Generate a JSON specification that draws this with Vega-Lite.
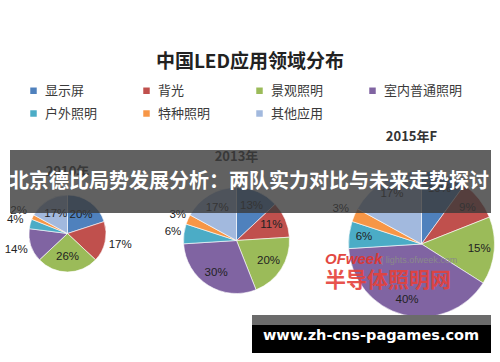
{
  "$schema": "https://vega.github.io/schema/vega-lite/v6.json",
  "width": 500,
  "height": 362,
  "autosize": "none",
  "padding": 0,
  "background": "white",
  "config": {"view": {"stroke": null}},
  "datasets": {
    "shares": [
      {"year": 2010, "cat": "显示屏", "k": 1, "share": 0.20},
      {"year": 2010, "cat": "背光", "k": 2, "share": 0.17},
      {"year": 2010, "cat": "景观照明", "k": 3, "share": 0.26},
      {"year": 2010, "cat": "室内普通照明", "k": 4, "share": 0.14},
      {"year": 2010, "cat": "户外照明", "k": 5, "share": 0.04},
      {"year": 2010, "cat": "特种照明", "k": 6, "share": 0.02},
      {"year": 2010, "cat": "其他应用", "k": 7, "share": 0.17},
      {"year": 2013, "cat": "显示屏", "k": 1, "share": 0.13},
      {"year": 2013, "cat": "背光", "k": 2, "share": 0.11},
      {"year": 2013, "cat": "景观照明", "k": 3, "share": 0.20},
      {"year": 2013, "cat": "室内普通照明", "k": 4, "share": 0.30},
      {"year": 2013, "cat": "户外照明", "k": 5, "share": 0.06},
      {"year": 2013, "cat": "特种照明", "k": 6, "share": 0.03},
      {"year": 2013, "cat": "其他应用", "k": 7, "share": 0.17},
      {"year": 2015, "cat": "显示屏", "k": 1, "share": 0.10},
      {"year": 2015, "cat": "背光", "k": 2, "share": 0.09},
      {"year": 2015, "cat": "景观照明", "k": 3, "share": 0.15},
      {"year": 2015, "cat": "室内普通照明", "k": 4, "share": 0.40},
      {"year": 2015, "cat": "户外照明", "k": 5, "share": 0.06},
      {"year": 2015, "cat": "特种照明", "k": 6, "share": 0.03},
      {"year": 2015, "cat": "其他应用", "k": 7, "share": 0.17}
    ],
    "years": [
      {"year": 2010, "label": "2010年"},
      {"year": 2013, "label": "2013年"},
      {"year": 2015, "label": "2015年F"}
    ]
  },
  "layer": [
    {
      "data": {"name": "shares"},
      "transform": [{"filter": "datum.year == 2010"}],
      "mark": {"type": "arc", "outerRadius": 38.5, "stroke": "#ffffff", "strokeWidth": 0.6},
      "encoding": {
        "x": {"field": "year", "type": "quantitative", "scale": {"domain": [2010, 2013, 2015], "range": [67.5, 236.5, 421.5], "nice": false, "zero": false}, "axis": null},
        "y": {"field": "year", "type": "quantitative", "scale": {"domain": [2010, 2013, 2015], "range": [233.5, 240.5, 244], "nice": false, "zero": false}, "axis": null},
        "theta": {"field": "share", "type": "quantitative", "stack": true},
        "order": {"field": "k", "type": "quantitative"},
        "color": {"field": "cat", "type": "nominal",
          "scale": {"domain": ["显示屏", "背光", "景观照明", "室内普通照明", "户外照明", "特种照明", "其他应用"], "range": ["#4F81BD", "#C0504D", "#9BBB59", "#8064A2", "#4BACC6", "#F79646", "#A2B9DE"]},
          "legend": {"orient": "none", "legendX": 27, "legendY": 84, "direction": "horizontal", "columns": 4, "title": null, "symbolType": "square", "symbolSize": 42, "symbolStrokeWidth": 0, "labelFontSize": 13, "labelFont": "Noto Sans CJK SC", "labelColor": "#3a3a3a", "columnPadding": 16, "rowPadding": 9, "gridAlign": "all", "labelOffset": 5, "padding": 0}}
      }
    },
    {
      "data": {"name": "shares"},
      "transform": [{"filter": "datum.year == 2013"}],
      "mark": {"type": "arc", "outerRadius": 53, "stroke": "#ffffff", "strokeWidth": 0.6},
      "encoding": {
        "x": {"field": "year", "type": "quantitative", "axis": null},
        "y": {"field": "year", "type": "quantitative", "axis": null},
        "theta": {"field": "share", "type": "quantitative", "stack": true},
        "order": {"field": "k", "type": "quantitative"},
        "color": {"field": "cat", "type": "nominal"}
      }
    },
    {
      "data": {"name": "shares"},
      "transform": [{"filter": "datum.year == 2015"}],
      "mark": {"type": "arc", "outerRadius": 73, "stroke": "#ffffff", "strokeWidth": 0.6},
      "encoding": {
        "x": {"field": "year", "type": "quantitative", "axis": null},
        "y": {"field": "year", "type": "quantitative", "axis": null},
        "theta": {"field": "share", "type": "quantitative", "stack": true},
        "order": {"field": "k", "type": "quantitative"},
        "color": {"field": "cat", "type": "nominal"}
      }
    },
    {
      "data": {"name": "shares"},
      "transform": [{"filter": "datum.year == 2010"}],
      "mark": {"type": "text", "radius": 23, "fontSize": 11.5, "font": "Liberation Sans", "fill": "#222222"},
      "encoding": {
        "x": {"field": "year", "type": "quantitative", "axis": null},
        "y": {"field": "year", "type": "quantitative", "axis": null},
        "theta": {"field": "share", "type": "quantitative", "stack": true},
        "order": {"field": "k", "type": "quantitative"},
        "text": {"field": "share", "type": "quantitative", "format": ".0%"},
        "opacity": {"condition": {"test": "indexof(['背光','室内普通照明','户外照明','特种照明'], datum.cat) >= 0", "value": 0}, "value": 1}
      }
    },
    {
      "data": {"name": "shares"},
      "transform": [{"filter": "datum.year == 2010"}],
      "mark": {"type": "text", "radius": 54, "fontSize": 11.5, "font": "Liberation Sans", "fill": "#222222"},
      "encoding": {
        "x": {"field": "year", "type": "quantitative", "axis": null},
        "y": {"field": "year", "type": "quantitative", "axis": null},
        "theta": {"field": "share", "type": "quantitative", "stack": true},
        "order": {"field": "k", "type": "quantitative"},
        "text": {"field": "share", "type": "quantitative", "format": ".0%"},
        "opacity": {"condition": {"test": "indexof(['背光','室内普通照明','户外照明','特种照明'], datum.cat) >= 0", "value": 1}, "value": 0}
      }
    },
    {
      "data": {"name": "shares"},
      "transform": [{"filter": "datum.year == 2013"}],
      "mark": {"type": "text", "radius": 38, "fontSize": 11.5, "font": "Liberation Sans", "fill": "#222222"},
      "encoding": {
        "x": {"field": "year", "type": "quantitative", "axis": null},
        "y": {"field": "year", "type": "quantitative", "axis": null},
        "theta": {"field": "share", "type": "quantitative", "stack": true},
        "order": {"field": "k", "type": "quantitative"},
        "text": {"field": "share", "type": "quantitative", "format": ".0%"},
        "opacity": {"condition": {"test": "indexof(['户外照明','特种照明'], datum.cat) >= 0", "value": 0}, "value": 1}
      }
    },
    {
      "data": {"name": "shares"},
      "transform": [{"filter": "datum.year == 2013"}],
      "mark": {"type": "text", "radius": 64, "fontSize": 11.5, "font": "Liberation Sans", "fill": "#222222"},
      "encoding": {
        "x": {"field": "year", "type": "quantitative", "axis": null},
        "y": {"field": "year", "type": "quantitative", "axis": null},
        "theta": {"field": "share", "type": "quantitative", "stack": true},
        "order": {"field": "k", "type": "quantitative"},
        "text": {"field": "share", "type": "quantitative", "format": ".0%"},
        "opacity": {"condition": {"test": "indexof(['户外照明','特种照明'], datum.cat) >= 0", "value": 1}, "value": 0}
      }
    },
    {
      "data": {"name": "shares"},
      "transform": [{"filter": "datum.year == 2015"}],
      "mark": {"type": "text", "radius": 58, "fontSize": 11.5, "font": "Liberation Sans", "fill": "#222222"},
      "encoding": {
        "x": {"field": "year", "type": "quantitative", "axis": null},
        "y": {"field": "year", "type": "quantitative", "axis": null},
        "theta": {"field": "share", "type": "quantitative", "stack": true},
        "order": {"field": "k", "type": "quantitative"},
        "text": {"field": "share", "type": "quantitative", "format": ".0%"},
        "opacity": {"condition": {"test": "indexof(['特种照明'], datum.cat) >= 0", "value": 0}, "value": 1}
      }
    },
    {
      "data": {"name": "shares"},
      "transform": [{"filter": "datum.year == 2015"}],
      "mark": {"type": "text", "radius": 88, "fontSize": 11.5, "font": "Liberation Sans", "fill": "#222222"},
      "encoding": {
        "x": {"field": "year", "type": "quantitative", "axis": null},
        "y": {"field": "year", "type": "quantitative", "axis": null},
        "theta": {"field": "share", "type": "quantitative", "stack": true},
        "order": {"field": "k", "type": "quantitative"},
        "text": {"field": "share", "type": "quantitative", "format": ".0%"},
        "opacity": {"condition": {"test": "indexof(['特种照明'], datum.cat) >= 0", "value": 1}, "value": 0}
      }
    },
    {
      "data": {"name": "years"},
      "transform": [{"filter": "datum.year == 2010"}],
      "mark": {"type": "text", "dy": -61.5, "fontSize": 13, "fontWeight": "bold", "font": "Noto Sans CJK SC", "fill": "#333333"},
      "encoding": {
        "x": {"field": "year", "type": "quantitative", "axis": null},
        "y": {"field": "year", "type": "quantitative", "axis": null},
        "text": {"field": "label", "type": "nominal"}
      }
    },
    {
      "data": {"name": "years"},
      "transform": [{"filter": "datum.year == 2013"}],
      "mark": {"type": "text", "dy": -83.5, "fontSize": 13, "fontWeight": "bold", "font": "Noto Sans CJK SC", "fill": "#333333"},
      "encoding": {
        "x": {"field": "year", "type": "quantitative", "axis": null},
        "y": {"field": "year", "type": "quantitative", "axis": null},
        "text": {"field": "label", "type": "nominal"}
      }
    },
    {
      "data": {"name": "years"},
      "transform": [{"filter": "datum.year == 2015"}],
      "mark": {"type": "text", "dy": -107, "dx": -10, "fontSize": 13, "fontWeight": "bold", "font": "Noto Sans CJK SC", "fill": "#333333"},
      "encoding": {
        "x": {"field": "year", "type": "quantitative", "axis": null},
        "y": {"field": "year", "type": "quantitative", "axis": null},
        "text": {"field": "label", "type": "nominal"}
      }
    },
    {
      "data": {"values": [{"t": "中国LED应用领域分布"}]},
      "mark": {"type": "text", "fontSize": 19, "fontWeight": "bold", "font": "Noto Sans CJK SC", "fill": "#222222", "align": "center", "baseline": "middle"},
      "encoding": {"x": {"value": 250}, "y": {"value": 62}, "text": {"field": "t", "type": "nominal"}}
    },
    {
      "data": {"values": [{"t": "OFweek"}]},
      "mark": {"type": "text", "fontSize": 15, "fontWeight": "bold", "fontStyle": "italic", "font": "Liberation Sans", "fill": "#E0352E", "opacity": 0.9, "align": "left", "baseline": "middle"},
      "encoding": {"x": {"value": 325}, "y": {"value": 259}, "text": {"field": "t", "type": "nominal"}}
    },
    {
      "data": {"values": [{"t": "| lights.ofweek.com"}]},
      "mark": {"type": "text", "fontSize": 9, "font": "Liberation Sans", "fill": "#8a8a8a", "align": "left", "baseline": "middle"},
      "encoding": {"x": {"value": 381}, "y": {"value": 260}, "text": {"field": "t", "type": "nominal"}}
    },
    {
      "data": {"values": [{"t": "半导体照明网"}]},
      "mark": {"type": "text", "fontSize": 21, "fontWeight": "bold", "font": "Noto Sans CJK SC", "fill": "#E5413A", "opacity": 0.9, "align": "left", "baseline": "middle"},
      "encoding": {"x": {"value": 325}, "y": {"value": 281}, "text": {"field": "t", "type": "nominal"}}
    },
    {
      "data": {"values": [{}]},
      "mark": {"type": "rect", "fill": "#3a3a3a", "opacity": 0.8},
      "encoding": {"x": {"value": 10}, "x2": {"value": 491}, "y": {"value": 150}, "y2": {"value": 213}}
    },
    {
      "data": {"values": [{"t": "北京德比局势发展分析：两队实力对比与未来走势探讨"}]},
      "mark": {"type": "text", "fontSize": 20, "fontWeight": "bold", "font": "Noto Sans CJK SC", "fill": "#ffffff", "align": "center", "baseline": "middle"},
      "encoding": {"x": {"value": 249}, "y": {"value": 182}, "text": {"field": "t", "type": "nominal"}}
    },
    {
      "data": {"values": [{}]},
      "mark": {"type": "rect", "fill": "#6b6b6b"},
      "encoding": {"x": {"value": 252}, "x2": {"value": 491}, "y": {"value": 315}, "y2": {"value": 325}}
    },
    {
      "data": {"values": [{}]},
      "mark": {"type": "rect", "fill": "#000000"},
      "encoding": {"x": {"value": 252}, "x2": {"value": 491}, "y": {"value": 325}, "y2": {"value": 353}}
    },
    {
      "data": {"values": [{"t": "www.zh-cns-pagames.com"}]},
      "mark": {"type": "text", "fontSize": 14.5, "fontWeight": "bold", "font": "DejaVu Sans", "fill": "#ffffff", "align": "center", "baseline": "middle"},
      "encoding": {"x": {"value": 371}, "y": {"value": 336}, "text": {"field": "t", "type": "nominal"}}
    }
  ]
}
